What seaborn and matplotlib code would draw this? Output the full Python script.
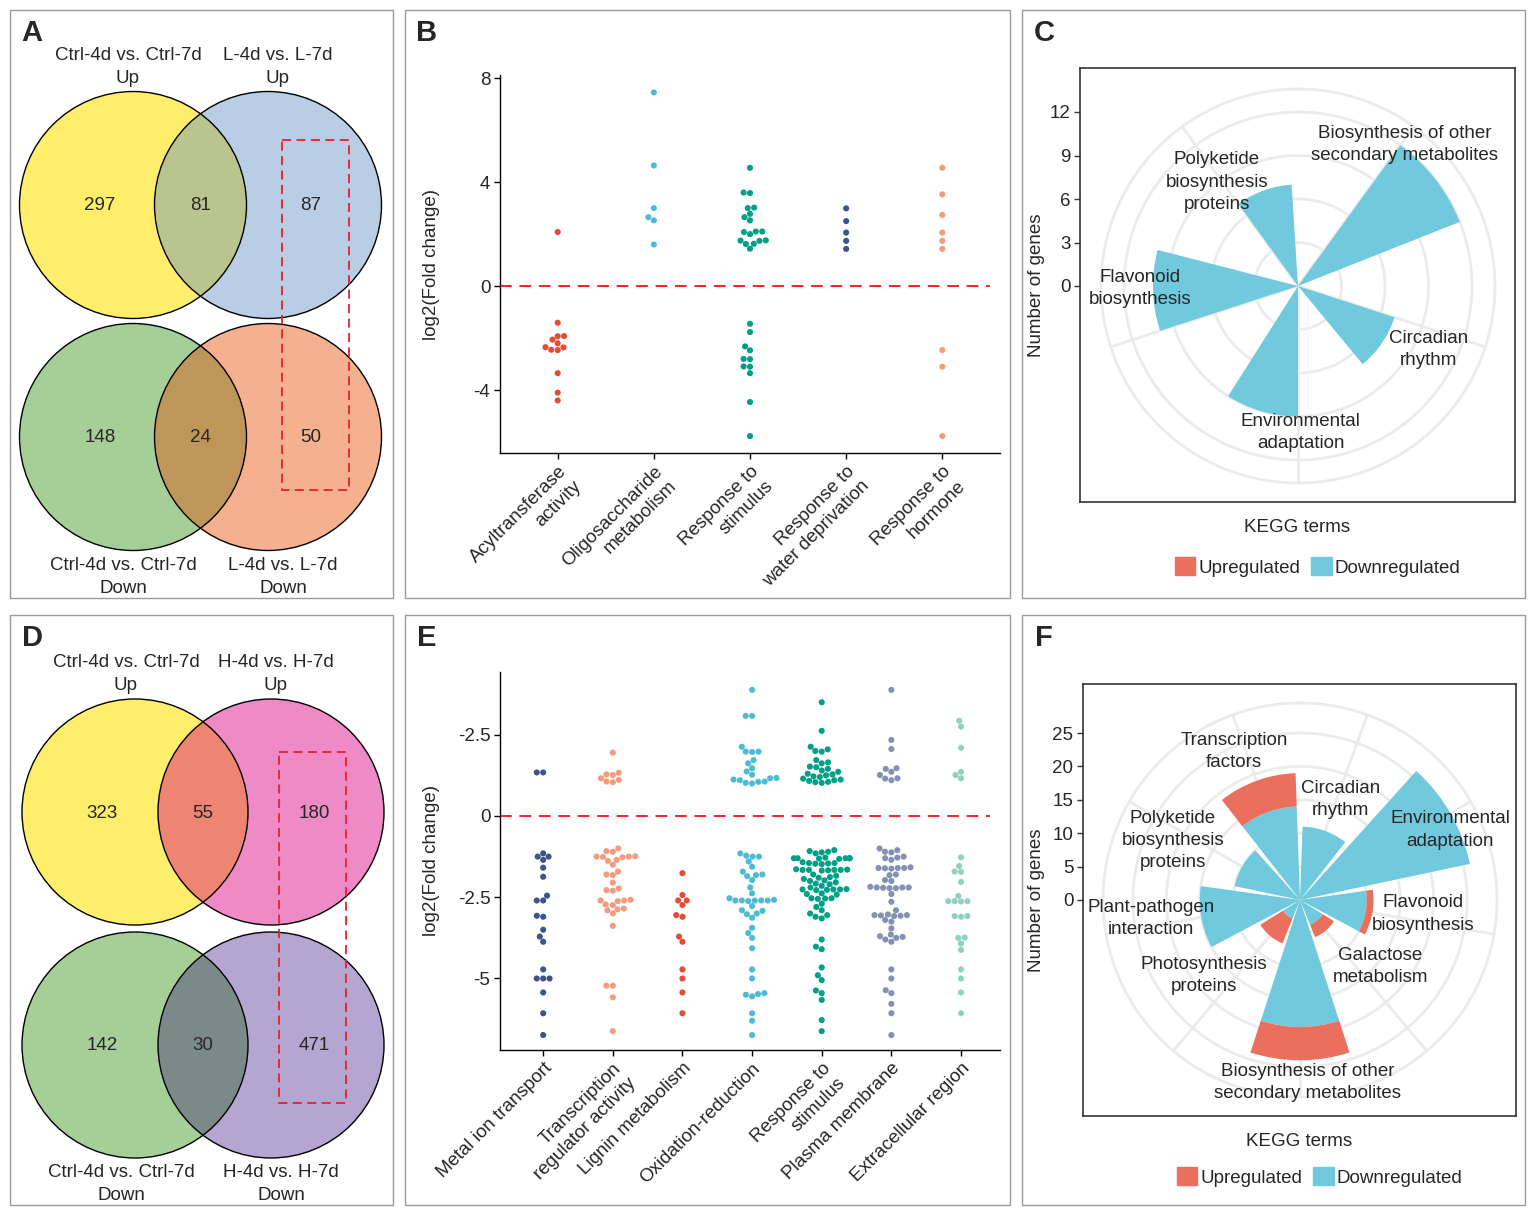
import numpy as np
import pandas as pd
import matplotlib
matplotlib.use('Agg')
import matplotlib.pyplot as plt
import seaborn as sns
from matplotlib.patches import Circle, Rectangle, Patch

W, H = 1535, 1214

# ─── Data: Venn diagrams (A, D) ───────────────────────────────────────────────
venn_a_sets = ['Ctrl-4d vs. Ctrl-7d', 'L-4d vs. L-7d']
venn_a_up = [297, 81, 87]
venn_a_down = [148, 24, 50]

venn_d_sets = ['Ctrl-4d vs. Ctrl-7d', 'H-4d vs. H-7d']
venn_d_up = [323, 55, 180]
venn_d_down = [142, 30, 471]

# ─── Data: GO terms log2 fold change (B) ──────────────────────────────────────
b_terms = ['Acyltransferase\nactivity', 'Oligosaccharide\nmetabolism',
           'Response to\nstimulus', 'Response to\nwater deprivation',
           'Response to\nhormone']
b_acyl = [2.08, -1.41, -1.92, -1.93, -2.06, -2.2, -2.35, -2.36, -2.45, -2.46,
          -3.35, -4.1, -4.4]
b_oligo = [7.45, 4.64, 3.0, 2.65, 2.53, 1.6]
b_stim = [4.55, 3.58, 3.6, 3.0, 3.02, 2.78, 2.65, 2.53, 2.1, 2.1, 2.08, 2.0,
          1.75, 1.76, 1.74, 1.63, 1.62, 1.44,
          -1.45, -1.77, -2.32, -2.47, -2.8, -2.81, -3.09, -3.1, -3.35, -4.46,
          -5.77]
b_water = [2.99, 2.5, 2.06, 1.74, 1.43]
b_hormone = [4.55, 3.53, 2.74, 2.06, 1.74, 1.43, -2.46, -3.1, -5.77]

# ─── Data: GO terms log2 fold change (E) ──────────────────────────────────────
e_terms = ['Metal ion transport', 'Transcription\nregulator activity',
           'Lignin metabolism', 'Oxidation-reduction', 'Response to\nstimulus',
           'Plasma membrane', 'Extracellular region']
e_metal = [1.34, 1.34,
           -1.15, -1.25, -1.25, -1.35, -1.59, -1.87, -2.45, -2.6, -2.6, -3.07,
           -3.1, -3.5, -3.71, -3.87, -4.72, -5.0, -5.0, -5.0, -5.43, -6.07,
           -6.74]
e_tr = [1.95, 1.33, 1.28, 1.26, 1.16, 1.11, 1.06, 1.04,
        -1.0, -1.08, -1.1, -1.24, -1.25, -1.25, -1.26, -1.27, -1.35, -1.38,
        -1.5, -1.71, -1.8, -1.82, -2.05, -2.23, -2.28, -2.3, -2.58, -2.6,
        -2.6, -2.62, -2.72, -2.74, -2.85, -2.87, -2.9, -3.0, -3.38,
        -5.22, -5.22, -5.58, -6.62]
e_lignin = [-1.76, -2.43, -2.6, -2.6, -2.74, -3.05, -3.1, -3.71, -3.87,
            -4.72, -5.0, -5.43, -6.07]
e_oxid = [3.88, 3.08, 3.08, 2.13, 1.98, 1.98, 1.97, 1.72, 1.62, 1.47, 1.37,
          1.27, 1.17, 1.16, 1.12, 1.1, 1.06, 1.05, 1.02, 1.0,
          -1.15, -1.22, -1.25, -1.25, -1.4, -1.56, -1.71, -1.8, -1.82, -1.85,
          -1.97, -2.2, -2.38, -2.53, -2.58, -2.6, -2.6, -2.6, -2.6, -2.6,
          -2.62, -2.77, -2.9, -2.92, -3.0, -3.02, -3.13, -3.44, -3.6, -3.75,
          -4.07, -4.72, -5.0, -5.45, -5.48, -5.5, -5.55, -6.07, -6.3, -6.74]
e_stim = [3.5, 2.62, 2.13, 2.05, 2.0, 1.98, 1.72, 1.65, 1.62, 1.52, 1.5, 1.45,
          1.4, 1.36, 1.3, 1.28, 1.25, 1.22, 1.2, 1.15, 1.12, 1.1, 1.08, 1.05,
          1.04, 1.02,
          -1.05, -1.08, -1.1, -1.12, -1.15,
          -1.28, -1.3, -1.3, -1.3, -1.3, -1.31, -1.3, -1.32,
          -1.42, -1.45, -1.45, -1.46, -1.47, -1.48,
          -1.64, -1.65, -1.66, -1.66, -1.66, -1.66, -1.67, -1.68,
          -1.8, -1.84, -1.88, -1.9, -1.94, -1.98, -2.0, -2.04, -2.08, -2.1,
          -2.15, -2.2,
          -2.25, -2.26, -2.26, -2.26, -2.27, -2.28,
          -2.38, -2.4, -2.42, -2.53, -2.53, -2.54, -2.55,
          -2.7, -2.8, -2.9, -3.0, -3.05, -3.1, -3.15,
          -3.8, -4.02, -4.1, -4.66, -4.9, -5.05, -5.37, -5.45, -5.66, -6.28,
          -6.62]
e_plasma = [3.88, 2.34, 2.06, 1.47, 1.45, 1.36, 1.26, 1.16, 1.15, 1.1,
            -1.0, -1.05, -1.1, -1.12, -1.25, -1.28, -1.3, -1.35,
            -1.58, -1.6, -1.6, -1.6, -1.61, -1.62,
            -1.8, -1.82, -1.97, -2.0,
            -2.18, -2.2, -2.2, -2.2, -2.21, -2.22, -2.22,
            -2.4, -2.64, -2.9,
            -3.03, -3.05, -3.05, -3.06, -3.07, -3.08, -3.2, -3.25,
            -3.46, -3.65, -3.7, -3.72, -3.75, -3.8, -3.87,
            -4.72, -5.0, -5.36, -5.45, -5.78, -6.07, -6.74]
e_extra = [2.93, 2.75, 2.1, 1.36, 1.26, 1.16,
           -1.27, -1.54, -1.71, -1.72, -2.03, -2.46, -2.62, -2.62, -2.62,
           -2.63, -3.08, -3.08, -3.1, -3.74, -3.75, -3.92, -4.12, -4.72, -5.0,
           -5.43, -6.07]

# ─── Data: KEGG rose charts (C, F) ────────────────────────────────────────────
c_terms = ['Biosynthesis of other\nsecondary metabolites', 'Circadian\nrhythm',
           'Environmental\nadaptation', 'Flavonoid\nbiosynthesis',
           'Polyketide\nbiosynthesis\nproteins']
c_down = [12, 7, 9, 10, 7]
c_up = [0, 0, 0, 0, 0]

f_terms = ['Circadian\nrhythm', 'Environmental\nadaptation',
           'Flavonoid\nbiosynthesis', 'Galactose\nmetabolism',
           'Biosynthesis of other\nsecondary metabolites',
           'Photosynthesis\nproteins', 'Plant-pathogen\ninteraction',
           'Polyketide\nbiosynthesis\nproteins', 'Transcription\nfactors']
f_down = [11, 26, 10, 4, 19, 3, 15, 10, 14]
f_up = [0, 0, 1, 2, 5, 4, 0, 0, 5]

# label placement (angle in degrees clockwise from top, radius in data units)
c_label_pos = [(37, 12.2), (116, 10.0), (179, 10.1), (269, 10.9), (322, 9.1)]
f_label_pos = [(22, 16.2), (65, 24.8), (96.5, 18.6), (129.5, 15.6),
               (177.5, 27.3), (232, 18.3), (263, 22.5), (295, 21.0),
               (336, 24.3)]

# ─── Style ────────────────────────────────────────────────────────────────────
sns.set_style('white')
plt.rcParams['font.family'] = ['Liberation Sans', 'DejaVu Sans']
plt.rcParams['font.size'] = 13.5

NPG = {'red': '#E64B35', 'cyan': '#4DBBD5', 'teal': '#00A087',
       'navy': '#3C5488', 'salmon': '#F39B7F', 'lav': '#8491B4',
       'mint': '#91D1C2'}
UP_COL = '#EB6F5D'
DOWN_COL = '#71C9DD'
GRID_COL = '#EBEBEB'
FS = 13.5
LS = 1.45   # line spacing of multi-line labels


def rect(x0, y0, x1, y1):
    return [x0 / W, 1 - y1 / H, (x1 - x0) / W, (y1 - y0) / H]


fig = plt.figure(figsize=(W / 100, H / 100), dpi=100)

# panel frames + letters
frames = [(10, 10, 393, 598), (405, 10, 1010, 598), (1022, 10, 1525, 598),
          (10, 615, 393, 1205), (405, 615, 1010, 1205), (1022, 615, 1525, 1205)]
for (x0, y0, x1, y1), letter in zip(frames, 'ABCDEF'):
    fig.add_artist(Rectangle((x0 / W, 1 - y1 / H), (x1 - x0) / W, (y1 - y0) / H,
                             transform=fig.transFigure, fill=False,
                             ec='#9A9A9A', lw=1))
    fig.text((x0 + 22) / W, 1 - (y0 + 23) / H, letter, fontsize=21,
             fontweight='bold', ha='center', va='center')


# ─── Venn panels ──────────────────────────────────────────────────────────────
def draw_pair(ax, cxl, cxr, cy, r, col_l, col_r, col_mid, counts):
    c1 = Circle((cxl, cy), r, fc=col_l, ec='none')
    c2 = Circle((cxr, cy), r, fc=col_r, ec='none')
    lens = Circle((cxr, cy), r, fc=col_mid, ec='none')
    for p in (c1, c2, lens):
        ax.add_patch(p)
    lens.set_clip_path(c1)
    for cx in (cxl, cxr):
        ax.add_patch(Circle((cx, cy), r, fill=False, ec='black', lw=1))
    xs = [cxl - 33, (cxl + cxr) / 2, cxr + 43]
    for x, n in zip(xs, counts):
        ax.text(x, cy + 1, str(n), ha='center', va='center', fontsize=FS)


def draw_venn(box, sets, up, down, cols, cxl, cxr, cy_top, cy_bot, r,
              lab_top, lab_bot, lab_x_top, lab_x_bot, dash_box):
    x0, y0, x1, y1 = box
    ax = fig.add_axes(rect(x0, y0, x1, y1))
    ax.set_xlim(x0, x1)
    ax.set_ylim(y1, y0)
    ax.axis('off')
    draw_pair(ax, cxl, cxr, cy_top, r, cols[0], cols[1], cols[2], up)
    draw_pair(ax, cxl, cxr, cy_bot, r, cols[3], cols[4], cols[5], down)
    for x, s in zip(lab_x_top, sets):
        ax.text(x, lab_top, s + '\nUp', ha='center', va='center', fontsize=FS,
                linespacing=LS)
    for x, s in zip(lab_x_bot, sets):
        ax.text(x, lab_bot, s + '\nDown', ha='center', va='center',
                fontsize=FS, linespacing=LS)
    dx0, dy0, dx1, dy1 = dash_box
    ax.add_patch(Rectangle((dx0, dy0), dx1 - dx0, dy1 - dy0, fill=False,
                           ec='#E8202A', lw=1.3, ls=(0, (5, 3))))


draw_venn((10, 10, 393, 598), venn_a_sets, venn_a_up, venn_a_down,
          ['#FFEE6B', '#B9CDE5', '#BAC48E', '#A6CF98', '#F4B08F', '#BF9659'],
          133, 268, 205, 437, 113.5, 67, 577, (128, 278), (123, 283),
          (282, 140, 349, 490))
draw_venn((10, 615, 393, 1205), venn_d_sets, venn_d_up, venn_d_down,
          ['#FFEE6B', '#EE8AC5', '#EE8572', '#A6CF98', '#B4A5D1', '#7B8989'],
          135, 271, 812, 1045, 113, 674, 1184, (126, 276), (121, 281),
          (279, 752, 346, 1103))


# ─── Swarm panels ─────────────────────────────────────────────────────────────
def draw_swarm(box, terms, groups, colors, ylim, yticks, yticklabels, xlim):
    df = pd.concat([pd.DataFrame({'term': t, 'lfc': g})
                    for t, g in zip(terms, groups)], ignore_index=True)
    ax = fig.add_axes(rect(*box))
    sns.swarmplot(data=df, x='term', y='lfc', hue='term', order=terms,
                  hue_order=terms, palette=colors, size=4.4, linewidth=0,
                  legend=False, ax=ax)
    ax.axhline(0, color='#F2212B', lw=1.4, ls=(0, (6, 4)), xmax=0.98,
               zorder=0)
    ax.set_xlim(*xlim)
    ax.set_ylim(*ylim)
    ax.set_yticks(yticks)
    ax.set_yticklabels(yticklabels, fontsize=FS)
    ax.set_xticks(range(len(terms)))
    ax.set_xticklabels(terms, rotation=45, ha='right', va='top',
                       rotation_mode='anchor', fontsize=FS, linespacing=1.3)
    ax.set_xlabel('')
    ax.set_ylabel('log2(Fold change)', fontsize=FS)
    bw = box[2] - box[0]
    ax.yaxis.set_label_coords((440 - box[0]) / bw, 0.5)
    for s in ('top', 'right'):
        ax.spines[s].set_visible(False)
    for s in ('left', 'bottom'):
        ax.spines[s].set_color('black')
        ax.spines[s].set_linewidth(1)
    ax.tick_params(direction='out', length=4, width=1, color='black',
                   left=True, bottom=True, pad=3)
    ax.set_facecolor('none')
    return ax


draw_swarm((500, 75, 1000, 453), b_terms,
           [b_acyl, b_oligo, b_stim, b_water, b_hormone],
           [NPG['red'], NPG['cyan'], NPG['teal'], NPG['navy'], NPG['salmon']],
           (-6.42, 8.12), [-4, 0, 4, 8], ['-4', '0', '4', '8'], (-0.6, 4.6))

draw_swarm((500, 672, 1000, 1050), e_terms,
           [e_metal, e_tr, e_lignin, e_oxid, e_stim, e_plasma, e_extra],
           [NPG['navy'], NPG['salmon'], NPG['red'], NPG['cyan'], NPG['teal'],
            NPG['lav'], NPG['mint']],
           (-7.2, 4.43), [2.5, 0, -2.5, -5], ['-2.5', '0', '-2.5', '-5'],
           (-0.62, 6.56))


# ─── Rose (polar bar) panels ──────────────────────────────────────────────────
def draw_rose(box, center, px_per_unit, rticks, terms, down, up, label_pos,
              stacked, legend_y):
    bx0, by0, bx1, by1 = box
    cx, cy = center
    frame = fig.add_axes(rect(bx0, by0, bx1, by1))
    frame.set_facecolor('none')
    frame.set_xlim(0, 1)
    frame.set_ylim(-(by1 - cy) / px_per_unit, (cy - by0) / px_per_unit)
    frame.set_xticks([])
    frame.set_yticks(rticks)
    frame.set_yticklabels([str(t) for t in rticks], fontsize=FS)
    frame.tick_params(axis='y', direction='out', length=4, width=1,
                      color='#333333', left=True, pad=3)
    for s in frame.spines.values():
        s.set_color('#333333')
        s.set_linewidth(1.2)
    frame.set_ylabel('Number of genes', fontsize=FS)
    frame.yaxis.set_label_coords((1045 - bx0) / (bx1 - bx0), 0.5)
    frame.set_xlabel('KEGG terms', fontsize=FS, labelpad=12)

    R = 197
    rmax = R / px_per_unit
    ax = fig.add_axes(rect(cx - R, cy - R, cx + R, cy + R), projection='polar')
    ax.set_facecolor('none')
    ax.set_theta_zero_location('N')
    ax.set_theta_direction(-1)
    ax.set_ylim(0, rmax)
    n = len(terms)
    step = 2 * np.pi / n
    centers = (np.arange(n) + 0.5) * step
    ax.set_xticks(centers)
    ax.set_xticklabels([])
    ax.set_yticks(rticks[1:])
    ax.set_yticklabels([])
    ax.grid(True, color=GRID_COL, lw=2)
    ax.spines['polar'].set_color(GRID_COL)
    ax.spines['polar'].set_linewidth(2)
    ax.set_axisbelow(True)
    ax.tick_params(length=0)

    down = np.asarray(down, dtype=float)
    up = np.asarray(up, dtype=float)
    if stacked:
        w = 0.9 * step
        ax.bar(centers, down, width=w, bottom=0, color=DOWN_COL, lw=0,
               align='center')
        ax.bar(centers, up, width=w, bottom=down, color=UP_COL, lw=0,
               align='center')
    else:
        w = 0.45 * step
        ax.bar(centers, down, width=w, color=DOWN_COL, lw=0, align='edge')
        ax.bar(centers, up, width=-w, color=UP_COL, lw=0, align='edge')

    for t, (deg, r) in zip(terms, label_pos):
        ax.text(np.deg2rad(deg), r, t, ha='center', va='center',
                fontsize=FS, linespacing=1.4)

    handles = [Patch(color=UP_COL, label='Upregulated'),
               Patch(color=DOWN_COL, label='Downregulated')]
    fig.legend(handles=handles, loc='center',
               bbox_to_anchor=(((bx0 + bx1) / 2 + 20) / W, 1 - legend_y / H),
               ncol=2, frameon=False, fontsize=FS, handlelength=1.1,
               handleheight=1.1, handletextpad=0.15, columnspacing=0.6,
               borderaxespad=0)


draw_rose((1080, 68, 1515, 502), (1298, 286), 14.5, [0, 3, 6, 9, 12],
          c_terms, c_down, c_up, c_label_pos, False, 567)
draw_rose((1083, 684, 1516, 1116), (1300, 900), 6.68, [0, 5, 10, 15, 20, 25],
          f_terms, f_down, f_up, f_label_pos, True, 1177)

fig.savefig('out.png', dpi=100, facecolor='white')
